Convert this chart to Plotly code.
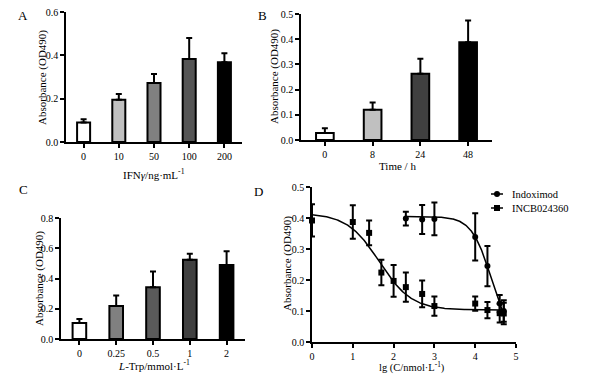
import numpy as np
import plotly.graph_objects as go

W, H = 592, 376
FONT = "Liberation Serif"

# ---------- data ----------
a_cats = ["0", "10", "50", "100", "200"]
a_vals = [0.090, 0.195, 0.272, 0.383, 0.368]
a_errs = [0.015, 0.027, 0.042, 0.097, 0.042]
a_colors = ["#ffffff", "#c0c0c0", "#808080", "#555555", "#000000"]

b_cats = ["0", "8", "24", "48"]
b_vals = [0.028, 0.120, 0.263, 0.388]
b_errs = [0.019, 0.029, 0.059, 0.086]
b_colors = ["#ffffff", "#c0c0c0", "#404040", "#000000"]

c_cats = ["0", "0.25", "0.5", "1", "2"]
c_vals = [0.106, 0.218, 0.342, 0.524, 0.489]
c_errs = [0.026, 0.070, 0.104, 0.040, 0.091]
c_colors = ["#ffffff", "#808080", "#5a5a5a", "#404040", "#000000"]

d_incb_x = [0, 1, 1.4, 1.7, 2, 2.3, 2.7, 3, 4, 4.3, 4.6, 4.7]
d_incb_y = [0.392, 0.387, 0.352, 0.224, 0.197, 0.177, 0.155, 0.116, 0.124, 0.103, 0.093, 0.092]
d_incb_e = [0.052, 0.054, 0.040, 0.041, 0.051, 0.047, 0.043, 0.031, 0.023, 0.026, 0.030, 0.035]

d_indo_x = [2.3, 2.7, 3, 4, 4.3, 4.6, 4.7]
d_indo_y = [0.398, 0.395, 0.397, 0.339, 0.245, 0.124, 0.100]
d_indo_e = [0.022, 0.047, 0.053, 0.076, 0.065, 0.028, 0.035]

series_names = ["Indoximod", "INCB024360"]

# four-parameter logistic fits (top, bottom, logIC50, hill)
incb_fit = (0.415, 0.103, 1.65, 1.10)
indo_fit = (0.405, 0.000, 4.40, 1.78)


def logistic(x, p):
    top, bottom, x0, h = p
    return bottom + (top - bottom) / (1 + 10 ** ((x - x0) * h))


def px_dom(a, b):
    return [a / W, b / W]


def py_dom(top_px, bot_px):
    return [1 - bot_px / H, 1 - top_px / H]


fig = go.Figure()

err_style = dict(color="black", thickness=2, width=3)


def add_bars(cats, vals, errs, colors, xa, ya, width):
    fig.add_trace(go.Bar(
        x=cats, y=vals, xaxis=xa, yaxis=ya, width=width,
        marker=dict(color=colors, line=dict(color="black", width=2)),
        error_y=dict(type="data", array=errs, arrayminus=[0] * len(errs),
                     symmetric=False, **err_style),
        showlegend=False,
    ))


add_bars(a_cats, a_vals, a_errs, a_colors, "x", "y", 0.37)
add_bars(b_cats, b_vals, b_errs, b_colors, "x2", "y2", 0.37)
add_bars(c_cats, c_vals, c_errs, c_colors, "x3", "y3", 0.37)

# fit curves
xi = np.linspace(0, 4.7, 200)
fig.add_trace(go.Scatter(x=xi, y=logistic(xi, incb_fit), mode="lines",
                         line=dict(color="black", width=1.5),
                         xaxis="x4", yaxis="y4", showlegend=False, hoverinfo="skip"))
xj = np.linspace(2.3, 4.7, 200)
fig.add_trace(go.Scatter(x=xj, y=logistic(xj, indo_fit), mode="lines",
                         line=dict(color="black", width=1.5),
                         xaxis="x4", yaxis="y4", showlegend=False, hoverinfo="skip"))

# data points
fig.add_trace(go.Scatter(x=d_indo_x, y=d_indo_y, mode="markers", name=series_names[0],
                         marker=dict(symbol="circle", size=6, color="black"),
                         error_y=dict(type="data", array=d_indo_e, **err_style),
                         xaxis="x4", yaxis="y4", showlegend=False, cliponaxis=False))
fig.add_trace(go.Scatter(x=d_incb_x, y=d_incb_y, mode="markers", name=series_names[1],
                         marker=dict(symbol="square", size=6, color="black"),
                         error_y=dict(type="data", array=d_incb_e, **err_style),
                         xaxis="x4", yaxis="y4", showlegend=False, cliponaxis=False))

tickfont = dict(family=FONT, size=10, color="black")
ax_common = dict(showline=True, linecolor="black", linewidth=1.5, ticks="outside",
                 ticklen=4, tickwidth=1.5, tickcolor="black", showgrid=False,
                 zeroline=False, tickfont=tickfont, fixedrange=True, automargin=False)

fig.update_layout(
    width=W, height=H, margin=dict(l=0, r=0, t=0, b=0, autoexpand=False),
    paper_bgcolor="white", plot_bgcolor="white",
    font=dict(family=FONT, color="black"),
    showlegend=False,
    xaxis=dict(domain=px_dom(66, 242), anchor="y", type="category",
               range=[-0.5, 4.5], **ax_common),
    yaxis=dict(domain=py_dom(12, 142), anchor="x", range=[0, 0.6], dtick=0.2,
               tickformat=".1f", **ax_common),
    xaxis2=dict(domain=px_dom(301, 492), anchor="y2", type="category",
                range=[-0.5, 3.5], **ax_common),
    yaxis2=dict(domain=py_dom(14, 140), anchor="x2", range=[0, 0.5], dtick=0.1,
                tickformat=".1f", **ax_common),
    xaxis3=dict(domain=px_dom(61, 245), anchor="y3", type="category",
                range=[-0.5, 4.5], **ax_common),
    yaxis3=dict(domain=py_dom(218, 339), anchor="x3", range=[0, 0.8], dtick=0.2,
                tickformat=".1f", **ax_common),
    xaxis4=dict(domain=px_dom(312, 516), anchor="y4", range=[0, 5], dtick=1,
                **ax_common),
    yaxis4=dict(domain=py_dom(187, 342), anchor="x4", range=[0, 0.5], dtick=0.1,
                tickformat=".1f", **ax_common),
)

title_font = dict(family=FONT, size=11, color="black")
small_title_font = dict(family=FONT, size=10.5, color="black")
letter_font = dict(family=FONT, size=13, color="black")
legend_font = dict(family=FONT, size=10.5, color="black")
annots = [
    # panel letters
    dict(x=23, y=16, text="A", font=letter_font),
    dict(x=262, y=16, text="B", font=letter_font),
    dict(x=23, y=189, text="C", font=letter_font),
    dict(x=258, y=191, text="D", font=letter_font),
    # y titles
    dict(x=43, y=77, text="Absorbance (OD490)", font=title_font, textangle=-90),
    dict(x=275, y=77, text="Absorbance (OD490)", font=title_font, textangle=-90),
    dict(x=39, y=278, text="Absorbance (OD490)", font=title_font, textangle=-90),
    dict(x=287, y=264, text="Absorbance (OD490)", font=title_font, textangle=-90),
    # x titles
    dict(x=154, y=174, text="IFN<i>γ</i>/ng·mL<sup>-1</sup>", font=title_font),
    dict(x=397, y=166, text="Time / h", font=title_font),
    dict(x=154, y=365, text="<i>L</i>-Trp/mmol·L<sup>-1</sup>", font=title_font),
    dict(x=412, y=367, text="lg (C/nmol·L<sup>-1</sup>)", font=small_title_font),
]
ann_list = [
    dict(xref="paper", yref="paper", x=a["x"] / W, y=1 - a["y"] / H, text=a["text"],
         font=a["font"], textangle=a.get("textangle", 0), showarrow=False,
         xanchor="center", yanchor="middle")
    for a in annots
]

# manual legend for panel D
shapes = []
leg_rows = [194, 208]
for name, row, sym in zip(series_names, leg_rows, ["circle", "square"]):
    yc = 1 - row / H
    shapes.append(dict(type="line", xref="paper", yref="paper",
                       x0=491 / W, x1=503 / W, y0=yc, y1=yc,
                       line=dict(color="black", width=1.5)))
    r = 3
    shapes.append(dict(type=("circle" if sym == "circle" else "rect"),
                       xref="paper", yref="paper",
                       x0=(497 - r) / W, x1=(497 + r) / W,
                       y0=yc - r / H, y1=yc + r / H,
                       fillcolor="black", line=dict(color="black", width=0)))
    ann_list.append(dict(xref="paper", yref="paper", x=510 / W, y=yc, text=name,
                         font=legend_font, showarrow=False,
                         xanchor="left", yanchor="middle"))

fig.update_layout(annotations=ann_list, shapes=shapes)

fig.write_html("out.html", config={"displayModeBar": False},
               post_script="document.body.style.margin='0';document.body.style.overflow='hidden';")
